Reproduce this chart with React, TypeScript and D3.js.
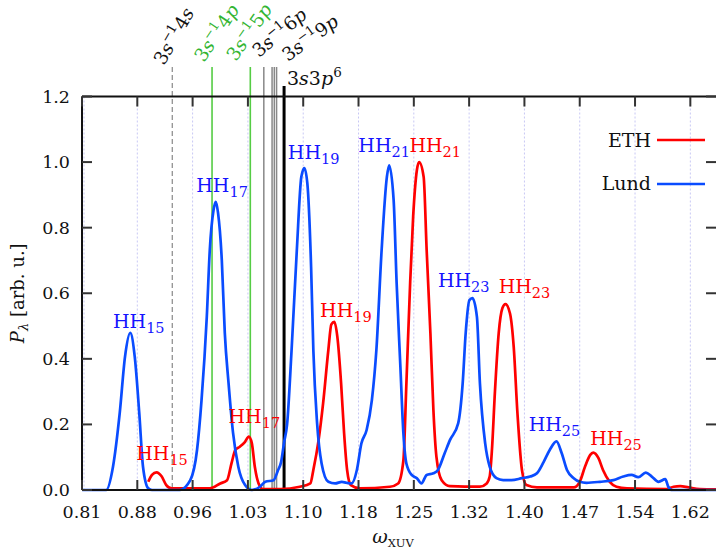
import React from "react";
import * as d3 from "d3";

// ---------- data ----------
const xTickValues = [0.8107, 0.8844, 0.9581, 1.0318, 1.1055, 1.1792, 1.2529, 1.3266, 1.4003, 1.474, 1.5477, 1.6214];
const xTickLabels = ["0.81", "0.88", "0.96", "1.03", "1.10", "1.18", "1.25", "1.32", "1.40", "1.47", "1.54", "1.62"];
const yTickValues = [0, 0.2, 0.4, 0.6, 0.8, 1.0, 1.2];
const yTickLabels = ["0.0", "0.2", "0.4", "0.6", "0.8", "1.0", "1.2"];

const lundOmega = [0.811, 0.843, 0.852, 0.861, 0.868, 0.875, 0.881, 0.887, 0.892, 0.899, 0.904, 0.941, 0.955, 0.964, 0.970, 0.977, 0.981, 0.986, 0.989, 0.992, 0.997, 1.001, 1.006, 1.012, 1.019, 1.028, 1.037, 1.048, 1.055, 1.066, 1.072, 1.076, 1.080, 1.084, 1.090, 1.097, 1.103, 1.107, 1.111, 1.116, 1.119, 1.124, 1.130, 1.139, 1.148, 1.157, 1.163, 1.170, 1.177, 1.183, 1.190, 1.197, 1.203, 1.210, 1.217, 1.220, 1.226, 1.230, 1.235, 1.239, 1.243, 1.250, 1.257, 1.263, 1.270, 1.279, 1.285, 1.294, 1.301, 1.312, 1.318, 1.322, 1.327, 1.331, 1.337, 1.341, 1.348, 1.354, 1.363, 1.372, 1.383, 1.397, 1.408, 1.417, 1.426, 1.434, 1.443, 1.450, 1.457, 1.466, 1.474, 1.483, 1.501, 1.519, 1.532, 1.543, 1.552, 1.562, 1.570, 1.579, 1.588, 1.592, 1.597, 1.656];
const lundValue = [0, 0, 0.071, 0.235, 0.406, 0.479, 0.406, 0.235, 0.071, 0.005, 0, 0, 0.030, 0.122, 0.274, 0.528, 0.732, 0.854, 0.879, 0.845, 0.701, 0.479, 0.326, 0.174, 0.071, 0.015, 0, 0.010, 0.025, 0.030, 0.061, 0.085, 0.145, 0.200, 0.427, 0.732, 0.955, 0.982, 0.935, 0.681, 0.427, 0.204, 0.081, 0.025, 0.020, 0.025, 0.022, 0.020, 0.061, 0.142, 0.183, 0.274, 0.427, 0.732, 0.955, 0.990, 0.884, 0.631, 0.376, 0.173, 0.081, 0.046, 0.036, 0.020, 0.046, 0.051, 0.061, 0.112, 0.152, 0.203, 0.325, 0.478, 0.579, 0.585, 0.528, 0.325, 0.142, 0.071, 0.036, 0.030, 0.030, 0.036, 0.041, 0.051, 0.086, 0.122, 0.148, 0.112, 0.061, 0.036, 0.025, 0.022, 0.025, 0.030, 0.041, 0.046, 0.039, 0.053, 0.041, 0.025, 0.033, 0.010, 0, 0];

const ethOmega = [0.899, 0.904, 0.910, 0.917, 0.923, 0.930, 0.981, 0.995, 1.004, 1.010, 1.015, 1.021, 1.028, 1.033, 1.037, 1.041, 1.046, 1.052, 1.075, 1.101, 1.115, 1.119, 1.126, 1.132, 1.139, 1.143, 1.147, 1.151, 1.156, 1.160, 1.164, 1.169, 1.181, 1.221, 1.232, 1.239, 1.243, 1.248, 1.252, 1.257, 1.260, 1.266, 1.270, 1.275, 1.279, 1.283, 1.290, 1.301, 1.341, 1.350, 1.354, 1.357, 1.361, 1.366, 1.371, 1.375, 1.381, 1.386, 1.391, 1.397, 1.403, 1.417, 1.466, 1.474, 1.481, 1.488, 1.492, 1.499, 1.505, 1.514, 1.523, 1.537, 1.590, 1.599, 1.608, 1.619, 1.634, 1.656];
const ethValue = [0.025, 0.046, 0.054, 0.041, 0.015, 0.005, 0.005, 0.020, 0.030, 0.082, 0.122, 0.132, 0.147, 0.163, 0.143, 0.071, 0.020, 0.003, 0.003, 0.010, 0.020, 0.061, 0.152, 0.264, 0.427, 0.505, 0.513, 0.467, 0.325, 0.173, 0.061, 0.015, 0.005, 0.010, 0.020, 0.090, 0.325, 0.631, 0.833, 0.976, 1.000, 0.955, 0.732, 0.478, 0.244, 0.102, 0.030, 0.012, 0.010, 0.020, 0.041, 0.122, 0.300, 0.478, 0.555, 0.567, 0.539, 0.437, 0.234, 0.061, 0.015, 0.008, 0.008, 0.025, 0.071, 0.107, 0.114, 0.097, 0.061, 0.025, 0.010, 0.005, 0.003, 0.010, 0.012, 0.008, 0.003, 0.002];

// ionic levels (vertical markers)
const levelOmega = [0.931, 0.984, 1.035, 1.053, 1.064, 1.067, 1.070, 1.080];
const levelKind = ["dashed", "green", "green", "gray", "gray", "gray", "gray", "black"];

// harmonic labels
const hhOrders = ["15", "17", "19", "21", "23", "25"];
const lundHHOmega = [0.852, 0.963, 1.085, 1.179, 1.285, 1.406];
const lundHHValue = [0.493, 0.91, 1.01, 1.03, 0.62, 0.18];
const ethHHOmega = [0.883, 1.006, 1.128, 1.247, 1.366, 1.488];
const ethHHValue = [0.09, 0.203, 0.529, 1.03, 0.6, 0.136];

const W = 716;
const H = 553;
const m = { left: 82, right: 716, top: 96.5, bottom: 490 };
const serif = "'DejaVu Serif', serif";

export default function App() {
  const x = d3.scaleLinear().domain([0.8107, 1.6556]).range([m.left, m.right]);
  const y = d3.scaleLinear().domain([0, 1.2]).range([m.bottom, m.top]);

  const line = d3
    .line<[number, number]>()
    .x((d) => x(d[0]))
    .y((d) => y(d[1]))
    .curve(d3.curveMonotoneX);

  const lund: [number, number][] = lundOmega.map((o, i) => [o, lundValue[i]]);
  const eth: [number, number][] = ethOmega.map((o, i) => [o, ethValue[i]]);

  const blue = "#0a4cff";
  const red = "#ff0000";
  const tickColor = "#333";

  const levelStyle = (k: string) => {
    if (k === "dashed") return { stroke: "#888", sw: 1.2, dash: "5,3", top: 67 };
    if (k === "green") return { stroke: "#55cc44", sw: 1.6, dash: undefined, top: 67 };
    if (k === "gray") return { stroke: "#888", sw: 1.5, dash: undefined, top: 67 };
    return { stroke: "#000", sw: 3, dash: undefined, top: 86 };
  };

  const rotLabel = (
    px: number,
    py: number,
    angle: number,
    color: string,
    end: string,
    key: string
  ) => (
    <text
      key={key}
      transform={`translate(${px},${py}) rotate(${angle})`}
      fontFamily={serif}
      fontSize={18.5}
      fill={color}
    >
      3<tspan fontStyle="italic">s</tspan>
      <tspan dy={-8} fontSize={13}>−1</tspan>
      <tspan dy={8}>{end[0]}</tspan>
      <tspan fontStyle="italic">{end[1]}</tspan>
    </text>
  );

  const hhLabel = (o: number, v: number, color: string, order: string, key: string) => (
    <text key={key} x={x(o)} y={y(v)} fontFamily={serif} fontSize={19} fill={color}>
      HH
      <tspan dy={5} fontSize={14.5}>
        {order}
      </tspan>
    </text>
  );

  return (
    <svg
      width={W}
      height={H}
      style={{ position: "absolute", left: 0, top: 0, background: "#fff" }}
    >
      <rect x={0} y={0} width={W} height={H} fill="#fff" />
      {/* grid */}
      {xTickValues.map((v, i) => (
        <line
          key={"g" + i}
          x1={x(v) + (i === 0 ? 2 : 0)}
          x2={x(v) + (i === 0 ? 2 : 0)}
          y1={m.top}
          y2={m.bottom}
          stroke="#c8c8f4"
          strokeWidth={1}
          strokeDasharray="2,2"
        />
      ))}

      {/* level markers */}
      {levelOmega.map((o, i) => {
        const s = levelStyle(levelKind[i]);
        return (
          <line
            key={"l" + i}
            x1={x(o)}
            x2={x(o)}
            y1={s.top}
            y2={m.bottom}
            stroke={s.stroke}
            strokeWidth={s.sw}
            strokeDasharray={s.dash}
          />
        );
      })}

      {/* curves */}
      <path d={line(eth) || ""} fill="none" stroke={red} strokeWidth={2.7} strokeLinejoin="round" />
      <path d={line(lund) || ""} fill="none" stroke={blue} strokeWidth={2.7} strokeLinejoin="round" />

      {/* frame */}
      <line x1={m.left} x2={m.right} y1={m.top} y2={m.top} stroke="#111" strokeWidth={2} />
      <line x1={m.left} x2={m.right} y1={m.bottom} y2={m.bottom} stroke="#111" strokeWidth={2} />
      <line x1={m.left} x2={m.left} y1={m.top} y2={m.bottom} stroke="#111" strokeWidth={2} />
      <line x1={m.right + 1} x2={m.right + 1} y1={m.top} y2={m.bottom} stroke="#111" strokeWidth={2} />

      {/* x ticks */}
      {xTickValues.map((v, i) => (
        <g key={"xt" + i}>
          <line x1={x(v)} x2={x(v)} y1={m.bottom} y2={m.bottom - 10} stroke={tickColor} strokeWidth={2} />
          <line x1={x(v)} x2={x(v)} y1={m.top} y2={m.top + 10} stroke={tickColor} strokeWidth={2} />
          <text x={x(v)} y={518} textAnchor="middle" fontFamily={serif} fontSize={17.5} fill="#111">
            {xTickLabels[i]}
          </text>
        </g>
      ))}
      {/* y ticks */}
      {yTickValues.map((v, i) => (
        <g key={"yt" + i}>
          <line x1={m.left} x2={m.left + 10} y1={y(v)} y2={y(v)} stroke={tickColor} strokeWidth={2} />
          <line x1={m.right - 10} x2={m.right + 1} y1={y(v)} y2={y(v)} stroke={tickColor} strokeWidth={2} />
          <text x={70} y={y(v) + 6} textAnchor="end" fontFamily={serif} fontSize={17.5} fill="#111">
            {yTickLabels[i]}
          </text>
        </g>
      ))}

      {/* axis titles */}
      <text x={393} y={543} textAnchor="middle" fontFamily={serif} fontSize={19} fill="#111">
        <tspan fontStyle="italic">ω</tspan>
        <tspan dy={4} fontSize={11.5}>XUV</tspan>
      </text>
      <text
        transform={`translate(24,${(m.top + m.bottom) / 2}) rotate(-90)`}
        textAnchor="middle"
        fontFamily={serif}
        fontSize={18}
        fill="#111"
      >
        <tspan fontStyle="italic">P</tspan>
        <tspan dy={4} fontSize={13} fontStyle="italic">λ</tspan>
        <tspan dy={-4}> [arb. u.]</tspan>
      </text>

      {/* level labels */}
      {rotLabel(164, 66, -60, "#111", "4s", "r1")}
      {rotLabel(204, 63, -56, "#33b533", "4p", "r2")}
      {rotLabel(236, 62, -55, "#33b533", "5p", "r3")}
      {rotLabel(259, 58, -40, "#111", "6p", "r4")}
      {rotLabel(288, 62, -36, "#111", "9p", "r5")}
      <text x={287} y={85} fontFamily={serif} fontSize={19} fill="#111">
        3<tspan fontStyle="italic">s</tspan>3<tspan fontStyle="italic">p</tspan>
        <tspan dy={-8} fontSize={13.5}>6</tspan>
      </text>

      {/* HH labels */}
      {hhOrders.map((o, i) => hhLabel(lundHHOmega[i], lundHHValue[i], "#1515ff", o, "lh" + i))}
      {hhOrders.map((o, i) => hhLabel(ethHHOmega[i], ethHHValue[i], "#ff0000", o, "eh" + i))}

      {/* legend */}
      <text x={651} y={146.5} textAnchor="end" fontFamily={serif} fontSize={19} fill="#111">ETH</text>
      <line x1={657} x2={705} y1={140} y2={140} stroke={red} strokeWidth={2.7} />
      <text x={651} y={190} textAnchor="end" fontFamily={serif} fontSize={19} fill="#111">Lund</text>
      <line x1={657} x2={705} y1={184} y2={184} stroke={blue} strokeWidth={2.7} />
    </svg>
  );
}
